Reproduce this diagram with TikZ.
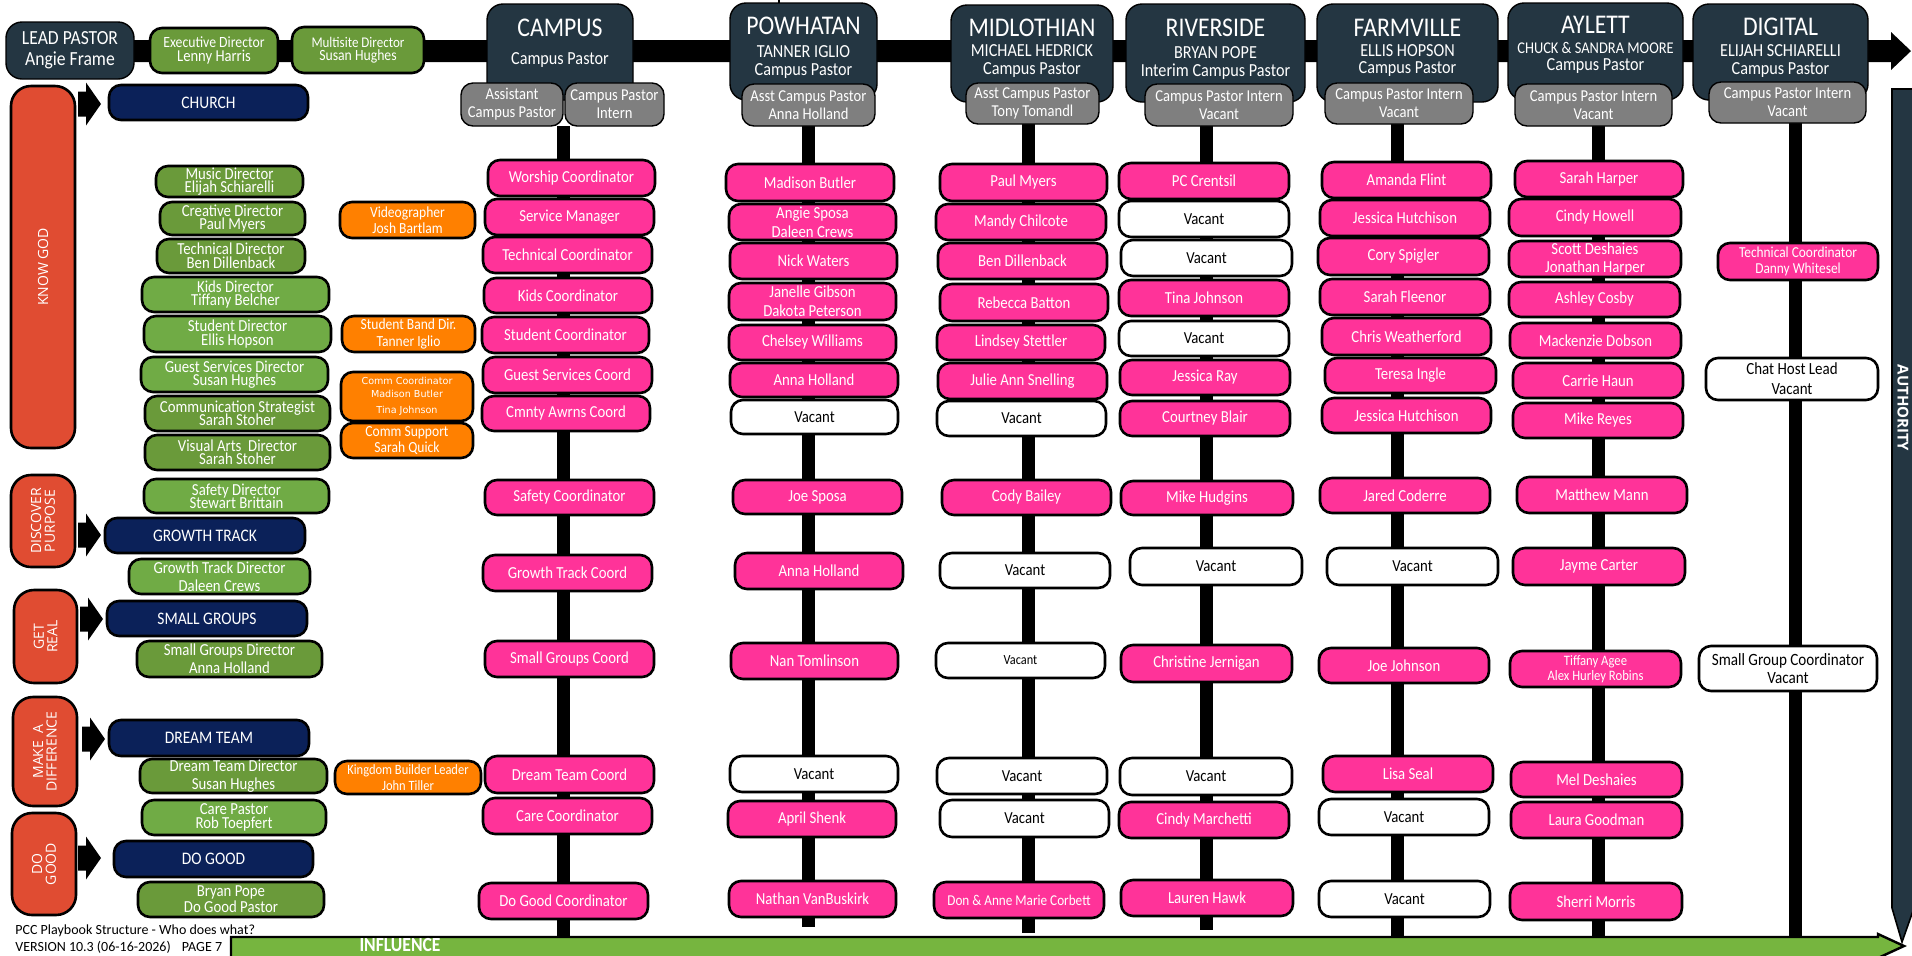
\documentclass[tikz,border=0pt]{standalone}
\usepackage{fontspec}
\setmainfont{Carlito}[FakeStretch=0.88]
\newfontfamily\plainf{Carlito}
\newfontfamily\osf{Open Sans}
\newfontfamily\dvs{DejaVu Sans}
\newcommand\fs[2]{\fontsize{#1}{#2}\selectfont\lineskiplimit-30pt\relax}
\definecolor{slatec}{HTML}{243642}
\definecolor{pinkc}{HTML}{FF3399}
\definecolor{grnc}{HTML}{6A9A3A}
\definecolor{grnl}{HTML}{70AB45}
\definecolor{orgc}{HTML}{FF8000}
\definecolor{navc}{HTML}{0B2159}
\definecolor{redc}{HTML}{E04C32}
\definecolor{gryc}{HTML}{7F7F7F}
\definecolor{inflc}{HTML}{76B53F}
\newcommand\bx[7]{\node[#2,minimum width={(#5-#3)*0.5pt},minimum height={(#6-#4)*0.5pt}] (#1) at ({(#3+#5)/2},{(#4+#6)/2}) {#7};}
\tikzset{
 bb/.style={draw=black, line width=1.3pt, rounded corners=6pt, inner sep=0pt, align=center, text=white},
 pk/.style={bb, fill=pinkc, font=\fs{8.4}{9.5}},
 vc/.style={bb, fill=white, text=black, font=\fs{8.4}{9.5}},
 gr/.style={bb, fill=grnc, font=\fs{8.4}{6.7}},
 grl/.style={gr, fill=grnl},
 og/.style={bb, fill=orgc, font=\fs{7.7}{8.2}},
 nv/.style={bb, fill=navc, font=\fs{8.8}{10}},
 rd/.style={bb, fill=redc, rounded corners=10pt},
 rdt/.style={text=white, inner sep=0pt, align=center, font=\osf\fs{7}{6.8}},
 gy/.style={draw=black, line width=0.7pt, rounded corners=6pt, inner sep=0pt, align=center, text=white, fill=gryc, font=\fs{8.3}{9}},
 hd/.style={draw=black, line width=0.7pt, rounded corners=8pt, fill=slatec, inner sep=0pt},
 ht/.style={text=white, inner sep=0pt, font=\fs{13.5}{14}},
 hs/.style={text=white, inner sep=0pt, font=\fs{9.2}{10}},
 spine/.style={line width=6.5pt, black},
 barr/.style={fill=black},
}
\begin{document}
\begin{tikzpicture}[x=0.5pt,y=-0.5pt]
\useasboundingbox (0,0) rectangle (1912,955);
\clip (0,0) rectangle (1912,955);
\fill[white] (0,0) rectangle (1912,955);
% top band arrow
\fill[black] (130,40) -- (1891,40) -- (1891,32) -- (1911,51) -- (1891,70) -- (1891,62) -- (130,62) -- cycle;
\draw[line width=1pt] (779,0) -- (779,4);
% spines
\coordinate (cT) at (563.5,126); \coordinate (cB) at (563.5,940);
\coordinate (pT) at (808.5,126); \coordinate (pB) at (808.5,927);
\coordinate (mT) at (1028.5,124); \coordinate (mB) at (1028.5,933);
\coordinate (rT) at (1206,126); \coordinate (rB) at (1206,930);
\coordinate (fT) at (1397.5,124); \coordinate (fB) at (1397.5,940);
\coordinate (aT) at (1598,126); \coordinate (aB) at (1598,940);
\coordinate (dT) at (1795,123); \coordinate (dB) at (1795,940);
\draw[spine] (cT) -- (cB);
\draw[spine] (pT) -- (pB);
\draw[spine] (mT) -- (mB);
\draw[spine] (rT) -- (rB);
\draw[spine] (fT) -- (fB);
\draw[spine] (aT) -- (aB);
\draw[spine] (dT) -- (dB);
% lead pastor and directors
\bx{lead}{hd}{6}{22}{134}{79}{}
\node[text=white, inner sep=0pt, align=center, font=\fs{10}{10.5}] (leadT) at (lead) {LEAD PASTOR\\Angie Frame};
\bx{exec}{gr}{150}{28}{278}{73}{\fs{7.8}{7.9}Executive Director\\\fs{8.3}{7.9}Lenny Harris}
\bx{multi}{gr}{292}{27}{424}{73}{\fs{7.4}{9}Multisite Director\\\fs{7.8}{9}Susan Hughes}
% headers
\bx{campus}{hd}{487}{4}{633}{100}{}
\node[ht] (campusN) at (560,28) {CAMPUS};
\node[hs] (campusS) at (560,60) {Campus Pastor};
\bx{pow}{hd}{730}{3}{877}{100}{}
\node[ht] (powN) at (803.5,26) {POWHATAN};
\node[hs] (powA) at (803.5,52) {TANNER IGLIO};
\node[hs] (powS) at (803.5,71) {Campus Pastor};
\bx{mid}{hd}{951}{5}{1113}{102}{}
\node[ht] (midN) at (1032,28) {MIDLOTHIAN};
\node[hs] (midA) at (1032,51) {MICHAEL HEDRICK};
\node[hs] (midS) at (1032,70) {Campus Pastor};
\bx{riv}{hd}{1126}{4}{1305}{102}{}
\node[ht] (rivN) at (1215.5,28) {RIVERSIDE};
\node[hs] (rivA) at (1215.5,53) {BRYAN POPE};
\node[hs] (rivS) at (1215.5,72) {Interim Campus Pastor};
\bx{farm}{hd}{1317}{4}{1498}{102}{}
\node[ht] (farmN) at (1407.5,28) {FARMVILLE};
\node[hs] (farmA) at (1407.5,51) {ELLIS HOPSON};
\node[hs] (farmS) at (1407.5,69) {Campus Pastor};
\bx{ayl}{hd}{1508}{3}{1683}{100}{}
\node[ht] (aylN) at (1595.5,25) {AYLETT};
\node[hs, font=\fs{8.2}{9}] (aylA) at (1595.5,48) {CHUCK \& SANDRA MOORE};
\node[hs] (aylS) at (1595.5,66) {Campus Pastor};
\bx{dig}{hd}{1693}{4}{1868}{100}{}
\node[ht] (digN) at (1780.5,27) {DIGITAL};
\node[hs] (digA) at (1780.5,51) {ELIJAH SCHIARELLI};
\node[hs] (digS) at (1780.5,70) {Campus Pastor};
% gray boxes
\bx{cgA}{gy}{461}{83}{563}{126}{Assistant\\Campus Pastor}
\bx{cgB}{gy}{565}{83}{664}{126}{Campus Pastor\\Intern}
\bx{pg}{gy}{742}{84}{875}{126}{Asst Campus Pastor\\Anna Holland}
\bx{mg}{gy}{966}{83}{1099}{124}{Asst Campus Pastor\\Tony Tomandl}
\bx{rg}{gy}{1145}{84}{1293}{126}{Campus Pastor Intern\\Vacant}
\bx{fg}{gy}{1325}{83}{1473}{124}{Campus Pastor Intern\\Vacant}
\bx{ag}{gy}{1515}{84}{1672}{126}{Campus Pastor Intern\\Vacant}
\bx{dg}{gy}{1709}{82}{1866}{123}{Campus Pastor Intern\\Vacant}
% CAMPUS column
\bx{c1}{pk}{488}{160}{655}{196}{Worship Coordinator}
\bx{c2}{pk}{485}{199}{654}{235}{Service Manager}
\bx{c3}{pk}{483}{237}{652}{273}{Technical Coordinator}
\bx{c4}{pk}{484}{278}{652}{313}{Kids Coordinator}
\bx{c5}{pk}{482}{317}{649}{353}{Student Coordinator}
\bx{c6}{pk}{483}{357}{652}{393}{Guest Services Coord}
\bx{c7}{pk}{482}{396}{650}{431}{Cmnty Awrns Coord}
\bx{c8}{pk}{485}{480}{654}{515}{Safety Coordinator}
\bx{c9}{pk}{483}{555}{652}{591}{Growth Track Coord}
\bx{c10}{pk}{485}{641}{654}{677}{Small Groups Coord}
\bx{c11}{pk}{485}{756}{654}{793}{Dream Team Coord}
\bx{c12}{pk}{483}{798}{652}{834}{Care Coordinator}
\bx{c13}{pk}{479}{883}{648}{919}{Do Good Coordinator}
% POWHATAN
\bx{p1}{pk}{726}{164}{894}{201}{Madison Butler}
\bx{p2}{pk}{729}{204}{896}{240}{Angie Sposa\\Daleen Crews}
\bx{p3}{pk}{730}{243}{897}{279}{Nick Waters}
\bx{p4}{pk}{729}{283}{896}{320}{Janelle Gibson\\Dakota Peterson}
\bx{p5}{pk}{729}{325}{896}{360}{Chelsey Williams}
\bx{p6}{pk}{730}{363}{898}{397}{Anna Holland}
\bx{p7}{vc}{731}{400}{898}{434}{Vacant}
\bx{p8}{pk}{733}{480}{902}{514}{Joe Sposa}
\bx{p9}{pk}{735}{553}{903}{589}{Anna Holland}
\bx{p10}{pk}{731}{643}{898}{679}{Nan Tomlinson}
\bx{p11}{vc}{730}{756}{898}{792}{Vacant}
\bx{p12}{pk}{728}{801}{896}{837}{April Shenk}
\bx{p13}{pk}{729}{881}{896}{917}{Nathan VanBuskirk}
% MIDLOTHIAN
\bx{m1}{pk}{940}{164}{1107}{201}{Paul Myers}
\bx{m2}{pk}{936}{204}{1106}{240}{Mandy Chilcote}
\bx{m3}{pk}{938}{243}{1107}{279}{Ben Dillenback}
\bx{m4}{pk}{940}{284}{1108}{321}{Rebecca Batton}
\bx{m5}{pk}{937}{325}{1105}{360}{Lindsey Stettler}
\bx{m6}{pk}{938}{363}{1107}{399}{Julie Ann Snelling}
\bx{m7}{vc}{937}{401}{1106}{436}{Vacant}
\bx{m8}{pk}{942}{480}{1111}{515}{Cody Bailey}
\bx{m9}{vc}{940}{553}{1110}{588}{Vacant}
\bx{m10}{vc,font=\fs{7}{8}}{936}{643}{1105}{678}{Vacant}
\bx{m11}{vc}{937}{758}{1107}{794}{Vacant}
\bx{m12}{vc}{940}{800}{1109}{837}{Vacant}
\bx{m13}{pk,font=\fs{7.5}{8}}{934}{882}{1104}{918}{Don \& Anne Marie Corbett}
% RIVERSIDE
\bx{r1}{pk}{1119}{163}{1289}{199}{PC Crentsil}
\bx{r2}{vc}{1119}{201}{1289}{237}{Vacant}
\bx{r3}{vc}{1121}{240}{1292}{276}{Vacant}
\bx{r4}{pk}{1119}{280}{1289}{316}{Tina Johnson}
\bx{r5}{vc}{1119}{321}{1289}{356}{Vacant}
\bx{r6}{pk}{1120}{360}{1290}{395}{Jessica Ray}
\bx{r7}{pk}{1120}{401}{1290}{436}{Courtney Blair}
\bx{r8}{pk}{1121}{481}{1293}{515}{Mike Hudgins}
\bx{r9}{vc}{1130}{548}{1302}{585}{Vacant}
\bx{r10}{pk}{1121}{645}{1292}{682}{Christine Jernigan}
\bx{r11}{vc}{1120}{758}{1292}{795}{Vacant}
\bx{r12}{pk}{1119}{802}{1289}{838}{Cindy Marchetti}
\bx{r13}{pk}{1121}{880}{1293}{916}{Lauren Hawk}
% FARMVILLE
\bx{f1}{pk}{1322}{162}{1491}{198}{Amanda Flint}
\bx{f2}{pk}{1320}{200}{1490}{236}{Jessica Hutchison}
\bx{f3}{pk}{1318}{238}{1489}{275}{Cory Spigler}
\bx{f4}{pk}{1320}{279}{1490}{315}{Sarah Fleenor}
\bx{f5}{pk}{1322}{318}{1491}{355}{Chris Weatherford}
\bx{f6}{pk}{1325}{358}{1496}{393}{Teresa Ingle}
\bx{f7}{pk}{1322}{398}{1491}{433}{Jessica Hutchison}
\bx{f8}{pk}{1320}{478}{1490}{513}{Jared Coderre}
\bx{f9}{vc}{1327}{548}{1498}{585}{Vacant}
\bx{f10}{pk}{1319}{648}{1489}{683}{Joe Johnson}
\bx{f11}{pk}{1323}{756}{1493}{792}{Lisa Seal}
\bx{f12}{vc}{1319}{799}{1489}{835}{Vacant}
\bx{f13}{vc}{1319}{881}{1490}{917}{Vacant}
% AYLETT
\bx{a1}{pk}{1515}{161}{1683}{197}{Sarah Harper}
\bx{a2}{pk}{1509}{199}{1681}{236}{Cindy Howell}
\bx{a3}{pk,font=\fs{8.4}{9}}{1509}{241}{1681}{277}{Scott Deshaies\\Jonathan Harper}
\bx{a4}{pk}{1509}{282}{1680}{317}{Ashley Cosby}
\bx{a5}{pk}{1510}{323}{1681}{358}{Mackenzie Dobson}
\bx{a6}{pk}{1513}{363}{1683}{398}{Carrie Haun}
\bx{a7}{pk}{1513}{403}{1683}{438}{Mike Reyes}
\bx{a8}{pk}{1517}{477}{1687}{513}{Matthew Mann}
\bx{a9}{pk}{1513}{548}{1685}{585}{Jayme Carter}
\bx{a10}{pk,font=\fs{7.2}{7.8}}{1510}{651}{1681}{687}{Tiffany Agee\\Alex Hurley Robins}
\bx{a11}{pk}{1511}{762}{1682}{797}{Mel Deshaies}
\bx{a12}{pk}{1511}{802}{1682}{838}{Laura Goodman}
\bx{a13}{pk}{1510}{883}{1682}{920}{Sherri Morris}
% DIGITAL
\bx{d1}{pk,font=\fs{7.6}{7.8}}{1718}{243}{1878}{280}{Technical Coordinator\\Danny Whitesel}
\bx{d2}{vc,font=\fs{8.5}{10}}{1706}{358}{1878}{400}{Chat Host Lead\\Vacant}
\bx{d3}{vc,font=\fs{8.6}{9}}{1699}{646}{1877}{691}{Small Group Coordinator\\Vacant}
% left column
\bx{church}{nv}{109}{85}{308}{120}{CHURCH}
\bx{g1}{gr}{156}{166}{303}{197}{Music Director\\Elijah Schiarelli}
\bx{g2}{gr}{160}{202}{305}{235}{Creative Director\\Paul Myers}
\bx{o1}{og}{340}{202}{475}{238}{Videographer\\Josh Bartlam}
\bx{g3}{gr,font=\fs{8.4}{6.9}}{157}{239}{305}{273}{Technical Director\\Ben Dillenback}
\bx{g4}{grl}{142}{277}{329}{312}{Kids Director\\Tiffany Belcher}
\bx{g5}{grl,font=\fs{8.4}{7.2}}{144}{316}{331}{352}{Student Director\\Ellis Hopson}
\bx{o2}{og}{342}{316}{475}{352}{Student Band Dir.\\Tanner Iglio}
\bx{g6}{grl}{141}{357}{328}{392}{Guest Services Director\\Susan Hughes}
\bx{o3}{og,font=\dvs\fs{4.8}{6.5}}{341}{372}{473}{421}{Comm Coordinator\\Madison Butler\\[1.5pt]Tina Johnson}
\bx{g7}{gr}{145}{396}{330}{431}{Communication Strategist\\Sarah Stoher}
\bx{o4}{og}{341}{423}{473}{458}{Comm Support\\Sarah Quick}
\bx{g8}{gr}{145}{435}{330}{470}{Visual Arts~ Director\\Sarah Stoher}
\bx{g9}{grl}{144}{479}{329}{513}{Safety Director\\Stewart Brittain}
\bx{growth}{nv}{105}{518}{305}{553}{GROWTH TRACK}
\bx{g10}{grl,font=\fs{8.4}{8.8}}{129}{559}{310}{594}{Growth Track Director\\Daleen Crews}
\bx{small}{nv}{107}{601}{307}{636}{SMALL GROUPS}
\bx{g11}{gr,font=\fs{8.4}{9.1}}{137}{641}{322}{677}{Small Groups Director\\Anna Holland}
\bx{dream}{nv}{109}{720}{309}{756}{DREAM TEAM}
\bx{g12}{gr,font=\fs{8.4}{8.8}}{140}{759}{327}{793}{Dream Team Director\\Susan Hughes}
\bx{o5}{og,font=\fs{7.1}{8}}{335}{761}{481}{794}{Kingdom Builder Leader\\John Tiller}
\bx{g13}{grl,font=\fs{8.4}{6.8}}{142}{800}{326}{835}{Care Pastor\\Rob Toepfert}
\bx{dogood}{nv}{114}{841}{313}{877}{DO GOOD}
\bx{g14}{gr,font=\fs{8.4}{8}}{138}{882}{324}{917}{Bryan Pope\\Do Good Pastor}
% red category boxes
\bx{know}{rd}{11}{86}{75}{448}{}
\node[rdt, rotate=90] (knowT) at (know) {KNOW GOD};
\bx{disc}{rd}{11}{475}{75}{567}{}
\node[rdt, rotate=90] (discT) at (disc) {DISCOVER\\PURPOSE};
\bx{getr}{rd}{14}{590}{77}{683}{}
\node[rdt, rotate=90] (getrT) at (getr) {GET\\REAL};
\bx{make}{rd}{13}{697}{77}{806}{}
\node[rdt, rotate=90] (makeT) at (make) {MAKE~~A\\DIFFERENCE};
\bx{dog}{rd}{12}{813}{76}{915}{}
\node[rdt, rotate=90] (dogT) at (dog) {DO\\GOOD};
% block arrows
\fill[barr, shift={(78,104)}] (0,-12.5) -- (8,-12.5) -- (8,-21.5) -- (23,0) -- (8,21.5) -- (8,12.5) -- (0,12.5) -- cycle;
\fill[barr, shift={(78,535)}] (0,-12.5) -- (8,-12.5) -- (8,-21.5) -- (23,0) -- (8,21.5) -- (8,12.5) -- (0,12.5) -- cycle;
\fill[barr, shift={(80,619)}] (0,-12.5) -- (8,-12.5) -- (8,-21.5) -- (23,0) -- (8,21.5) -- (8,12.5) -- (0,12.5) -- cycle;
\fill[barr, shift={(82,739)}] (0,-12.5) -- (8,-12.5) -- (8,-21.5) -- (23,0) -- (8,21.5) -- (8,12.5) -- (0,12.5) -- cycle;
\fill[barr, shift={(78,858)}] (0,-12.5) -- (8,-12.5) -- (8,-21.5) -- (23,0) -- (8,21.5) -- (8,12.5) -- (0,12.5) -- cycle;
% influence arrow
\draw[line width=1.2pt, fill=inflc] (231,937) -- (1878,937) -- (1878,934) -- (1904,946) -- (1878,958) -- (1878,962) -- (231,962) -- cycle;
\node[text=white, inner sep=0pt, font=\bfseries\fs{10}{11}] (infl) at (400,945) {INFLUENCE};
% authority arrow
\draw[line width=0.8pt, fill=slatec] (1892,89) -- (1914,89) -- (1914,908) -- (1902,942) -- (1892,908) -- cycle;
\node[text=white, inner sep=0pt, rotate=-90, font=\osf\bfseries\fs{7.5}{8}] (auth) at (1903,408) {AUTHORITY};
% footer
\node[anchor=west, inner sep=0pt, font=\plainf\fs{7}{8}] (foot1) at (15,931) {PCC Playbook Structure - Who does what?};
\node[anchor=west, inner sep=0pt, font=\plainf\fs{7}{8}] (foot2) at (15,947) {VERSION 10.3 (06-16-2026)\hspace{4pt} PAGE 7};
\end{tikzpicture}
\end{document}
